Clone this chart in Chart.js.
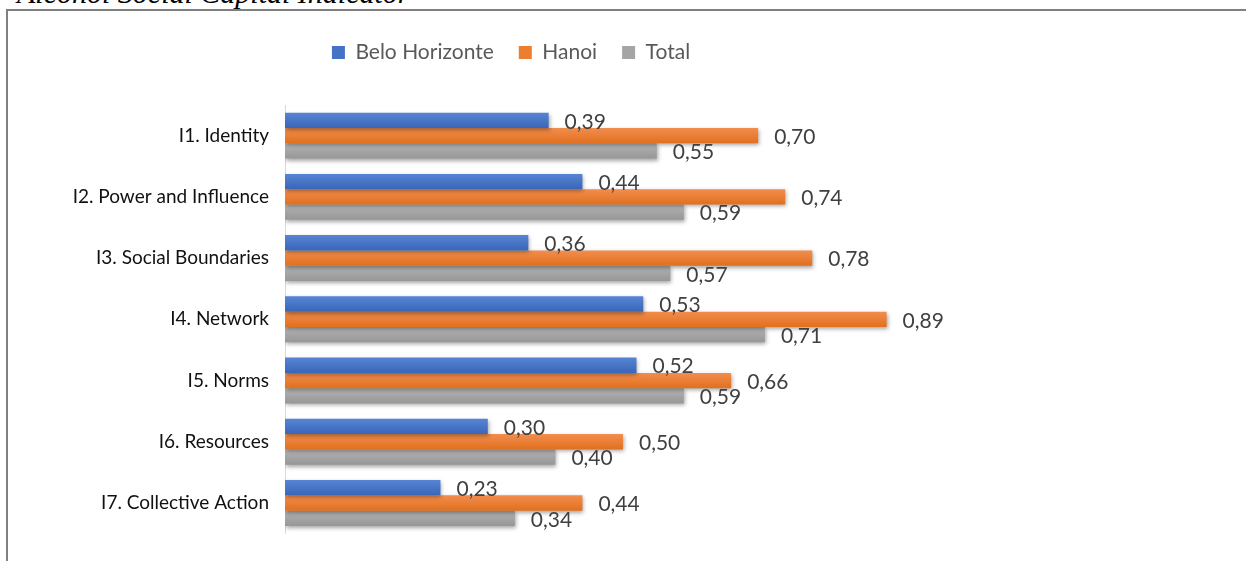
<!DOCTYPE html>
<html>
<head>
<meta charset="utf-8">
<script src="https://cdn.jsdelivr.net/npm/chart.js@4.4.1/dist/chart.umd.min.js"></script>
<style>
  html, body { margin: 0; padding: 0; background: #fff; overflow: hidden; }
  body { width: 1246px; height: 561px; position: relative; }
  #title {
    position: absolute; left: 17px; top: -24px;
    font-family: "Liberation Serif", "DejaVu Serif", serif; font-style: italic; font-size: 30px;
    color: #000; white-space: nowrap;
  }
  #frame {
    position: absolute; left: 6px; top: 9px; width: 1300px; height: 600px;
    border-left: 2px solid #808080; border-top: 2px solid #808080;
  }
  #wrap { position: absolute; left: 9px; top: 12px; width: 1004px; height: 549px; }
</style>
</head>
<body>
<div id="title"><i>Alcohol Social Capital Indicator</i></div>
<div id="frame"></div>
<div id="wrap"><canvas id="chart"></canvas></div>
<script>
// Chart data
const categories = [
  'I1. Identity',
  'I2. Power and Influence',
  'I3. Social Boundaries',
  'I4. Network',
  'I5. Norms',
  'I6. Resources',
  'I7. Collective Action'
];
const seriesNames = ['Belo Horizonte', 'Hanoi', 'Total'];
const beloHorizonte = [0.39, 0.44, 0.36, 0.53, 0.52, 0.30, 0.23];
const hanoi = [0.70, 0.74, 0.78, 0.89, 0.66, 0.50, 0.44];
const total = [0.55, 0.59, 0.57, 0.71, 0.59, 0.40, 0.34];
const seriesColors = ['#4472C4', '#ED7D31', '#A5A5A5'];
// lighter top / darker bottom, like the office gradient fill
const gradientStops = [
  ['#5784D4', '#3A66B9'],
  ['#F28D4E', '#E1701E'],
  ['#B3B3B3', '#979797']
];

const FONT = 'Lato';

// Per-bar vertical gradient (colors are scriptable so each bar keeps its own options)
const barGradient = {
  id: 'barGradient',
  beforeDatasetsDraw(chart) {
    const ctx = chart.ctx;
    chart.data.datasets.forEach((ds, i) => {
      chart.getDatasetMeta(i).data.forEach(bar => {
        const top = bar.y - bar.height / 2;
        const g = ctx.createLinearGradient(0, top, 0, top + bar.height);
        g.addColorStop(0, gradientStops[i][0]);
        g.addColorStop(1, gradientStops[i][1]);
        bar.options.backgroundColor = g;
      });
    });
  }
};

// Value labels right of each bar, comma decimal
const barLabels = {
  id: 'barLabels',
  afterDatasetsDraw(chart) {
    const ctx = chart.ctx;
    ctx.save();
    ctx.font = '21px ' + FONT;
    ctx.fillStyle = '#404040';
    ctx.textBaseline = 'middle';
    ctx.textAlign = 'left';
    chart.data.datasets.forEach((ds, i) => {
      chart.getDatasetMeta(i).data.forEach((bar, j) => {
        const txt = ds.data[j].toFixed(2).replace('.', ',');
        ctx.fillText(txt, bar.x + 16, bar.y + 1.5);
      });
    });
    ctx.restore();
  }
};

// Soft drop shadow under bars
const barShadow = {
  id: 'barShadow',
  beforeDatasetsDraw(chart) {
    const ctx = chart.ctx;
    ctx.save();
    ctx.shadowColor = 'rgba(0,0,0,0.35)';
    ctx.shadowBlur = 4;
    ctx.shadowOffsetX = 1;
    ctx.shadowOffsetY = 2;
  },
  afterDatasetsDraw(chart) {
    chart.ctx.restore();
  }
};

// Extra space below the legend
const legendSpace = {
  id: 'legendSpace',
  beforeInit(chart) {
    const fit = chart.legend.fit;
    chart.legend.fit = function() {
      fit.bind(chart.legend)();
      this.height += 32;
    };
  }
};

const seriesData = [beloHorizonte, hanoi, total];

new Chart(document.getElementById('chart'), {
  type: 'bar',
  data: {
    labels: categories,
    datasets: seriesNames.map((name, i) => ({
      label: name,
      data: seriesData[i],
      backgroundColor: (c) => seriesColors[c.datasetIndex]
    }))
  },
  options: {
    indexAxis: 'y',
    responsive: true,
    maintainAspectRatio: false,
    animation: false,
    datasets: {
      bar: { categoryPercentage: 0.75, barPercentage: 1.0 }
    },
    layout: { padding: { top: 5, bottom: 23, left: 0, right: 0 } },
    plugins: {
      legend: {
        position: 'top',
        labels: {
          boxWidth: 13, boxHeight: 13, padding: 25,
          color: '#595959',
          font: { family: FONT, size: 21 },
          generateLabels(chart) {
            return seriesNames.map((name, i) => ({
              text: name,
              fillStyle: seriesColors[i],
              strokeStyle: seriesColors[i],
              fontColor: '#595959',
              lineWidth: 0,
              hidden: false,
              datasetIndex: i
            }));
          }
        }
      },
      tooltip: { enabled: false }
    },
    scales: {
      x: {
        display: false,
        min: 0,
        max: 1.077
      },
      y: {
        afterFit(scale) { scale.width = 276; },
        grid: { display: true, color: 'transparent', drawTicks: false },
        border: { display: true, color: '#D9D9D9', width: 1 },
        ticks: {
          padding: 16,
          color: '#111111',
          font: { family: FONT, size: 19 }
        }
      }
    }
  },
  plugins: [barGradient, barShadow, barLabels, legendSpace]
});
</script>
</body>
</html>
